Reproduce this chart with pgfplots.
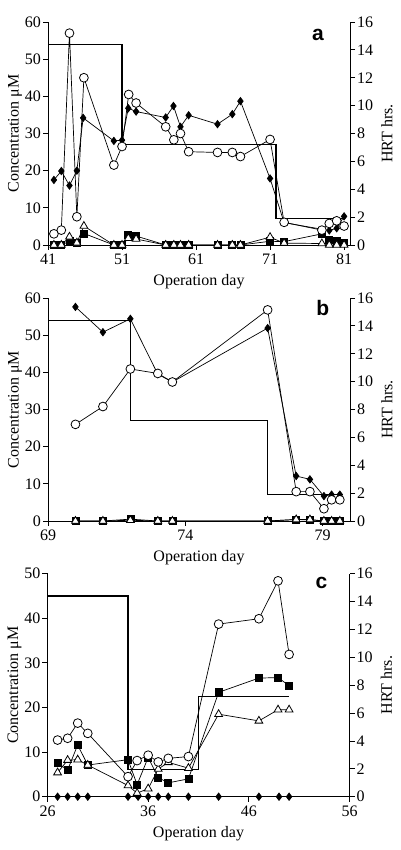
\documentclass[border=0pt]{standalone}
\usepackage{fontspec}
\setmainfont{Liberation Serif}
\newfontfamily\arialfont{Liberation Sans}
\usepackage{pgfplots}
\pgfplotsset{compat=1.18}

\tikzset{plab/.style={font=\arialfont\bfseries\fontsize{21}{24}\selectfont, anchor=center}}
\pgfplotsset{
  base/.style={scale only axis, width=302pt, height=223pt, anchor=south west,
    /pgf/number format/assume math mode=true,
    tick label style={font=\fontsize{16}{18}\selectfont},
    label style={font=\fontsize{16}{18}\selectfont},
    xticklabel style={inner sep=2pt, yshift=-2pt},
    yticklabel style={inner sep=2pt},
    axis line style={-, line width=0.9pt},
    tick style={line width=0.8pt, black},
    major tick length=5pt, tick align=outside, clip=false},
  leftax/.style={base, axis x line*=bottom, axis y line*=left,
    ylabel={Concentration μM}, xlabel={Operation day},
    every axis y label/.style={at={(rel axis cs:0,0.5)}, xshift=-33pt, rotate=90, anchor=center, font=\fontsize{16}{18}\selectfont},
    every axis x label/.style={at={(rel axis cs:0.5,0)}, yshift=-37pt, anchor=center, font=\fontsize{16}{18}\selectfont}},
  rightax/.style={base, axis y line*=right, axis x line=none, ymin=0, ymax=16, ytick={0,2,...,16},
    ylabel={HRT hrs.},
    every axis y label/.style={at={(rel axis cs:1,0.5)}, xshift=37pt, rotate=90, anchor=center, font=\fontsize{16}{18}\selectfont}},
  hrt/.style={const plot, line width=1.1pt, black, no marks},
  circ/.style={black, line width=0.7pt, mark=*, mark size=4.4pt, mark options={fill=white, draw=black, line width=0.8pt}},
  diam/.style={black, line width=0.7pt, mark=diamond*, mark size=3.7pt, mark options={fill=black, draw=black}},
  sqr/.style={black, line width=0.7pt, mark=square*, mark size=3.5pt, mark options={fill=black, draw=black}},
  tri/.style={black, line width=0.7pt, mark=triangle*, mark size=4.5pt, mark options={fill=white, draw=black, line width=0.8pt}}
}

\begin{document}
\begin{tikzpicture}
\path[use as bounding box] (0pt,0pt) rectangle (400pt,850pt);

% ---------------- Panel a ----------------
\begin{axis}[rightax, at={(48pt,605pt)}, xmin=41, xmax=81.8]
\addplot[hrt] coordinates {(41,14.4) (51,7.2) (71.8,1.9) (81,1.9)};
\end{axis}
\begin{axis}[leftax, at={(48pt,605pt)}, xmin=41, xmax=81.8, ymin=0, ymax=60,
  xtick={41,51,61,71,81}, ytick={0,10,...,60}]
\addplot[diam] coordinates {(41.8,17.5) (42.8,19.9) (43.9,16.0) (44.9,20.0) (45.75,34.2) (49.9,28.0) (51.0,28.2) (51.85,36.8) (52.9,35.9) (56.9,34.3) (57.95,37.4) (58.9,31.8) (60.0,34.9) (63.9,32.5) (65.9,35.2) (67.0,38.7) (71.0,17.9) (72.9,6.0) (79.0,3.9) (80.0,4.5) (81.0,7.7)};
\addplot[sqr] coordinates {(41.8,0) (42.8,0) (43.9,1.0) (44.9,0.5) (45.85,3.1) (49.9,0) (51.0,0) (51.85,2.7) (52.9,2.4) (56.9,0) (58.0,0) (58.9,0) (60.0,0) (63.9,0) (65.9,0) (67.0,0) (71.0,1.0) (72.9,0.9) (78.0,3.0) (79.0,1.3) (80.0,1.2) (81.0,0.7)};
\addplot[tri] coordinates {(41.8,0) (42.8,0) (43.9,2.2) (44.9,0.6) (45.85,5.1) (49.9,0) (51.0,0) (51.85,1.8) (52.9,1.6) (56.9,0) (58.0,0) (58.9,0) (60.0,0) (63.9,0) (65.9,0) (67.0,0) (71.0,2.1) (72.9,0.5) (78.0,0.4) (79.0,0) (80.0,0) (81.0,0)};
\addplot[circ] coordinates {(41.8,3.0) (42.8,4.0) (43.9,57.0) (44.9,7.6) (45.85,45.0) (49.9,21.5) (51.0,26.5) (51.9,40.5) (52.9,38.2) (56.9,31.8) (58.0,28.3) (58.9,30.0) (60.0,25.1) (63.9,24.9) (65.9,24.9) (67.0,23.8) (71.0,28.4) (72.9,6.1) (78.0,4.0) (79.0,5.8) (80.0,6.5) (81.0,5.1)};
\node[plab] at (rel axis cs:0.894,0.942) {a};
\end{axis}

% ---------------- Panel b ----------------
\begin{axis}[rightax, at={(48pt,329pt)}, xmin=69, xmax=80]
\addplot[hrt] coordinates {(69,14.4) (72,7.2) (77,1.9) (79.6,1.9)};
\end{axis}
\begin{axis}[leftax, at={(48pt,329pt)}, xmin=69, xmax=80, ymin=0, ymax=60,
  xtick={69,74,79}, ytick={0,10,...,60}]
\addplot[diam] coordinates {(70.0,57.6) (71.0,50.8) (72.0,54.4) (73.0,39.5) (73.53,37.4) (77.0,51.9) (78.04,12.1) (78.54,11.2) (79.05,6.7) (79.33,7.1) (79.63,7.1)};
\addplot[sqr] coordinates {(70.0,0) (71.0,0) (72.0,0.5) (73.0,0) (73.53,0) (77.0,0) (78.04,0.4) (78.54,0.3) (79.05,0) (79.33,0) (79.63,0)};
\addplot[tri] coordinates {(70.0,0) (71.0,0) (72.0,0.2) (73.0,0) (73.53,0) (77.0,0) (78.04,0.4) (78.54,0.4) (79.05,0) (79.33,0) (79.63,0)};
\addplot[circ] coordinates {(70.0,26.0) (71.0,30.8) (72.0,40.9) (73.0,39.7) (73.53,37.4) (77.0,56.8) (78.04,7.9) (78.54,7.9) (79.05,3.3) (79.33,5.7) (79.63,5.7)};
\node[plab] at (rel axis cs:0.91,0.955) {b};
\end{axis}

% ---------------- Panel c ----------------
\begin{axis}[rightax, at={(47.5pt,53.3pt)}, xmin=26, xmax=56]
\addplot[hrt] coordinates {(26,14.4) (34,1.93) (41,7.2) (50,7.2)};
\end{axis}
\begin{axis}[leftax, at={(47.5pt,53.3pt)}, xmin=26, xmax=56, ymin=0, ymax=50,
  xtick={26,36,46,56}, ytick={0,10,...,50}]
\addplot[diam] coordinates {(27,0) (28,0) (29,0) (30,0) (34,0) (35,0) (36,0) (37,0) (38,0) (40,0) (43,0) (47,0) (49,0) (50,0)};
\addplot[sqr] coordinates {(27.0,7.5) (28.0,6.0) (29.0,11.6) (30.0,7.1) (34.0,8.3) (34.9,2.7) (36.0,8.8) (37.0,4.3) (38.0,3.1) (40.0,4.0) (43.0,23.4) (47.0,26.6) (48.9,26.7) (50.0,24.9)};
\addplot[tri] coordinates {(27.0,5.4) (28.0,8.2) (29.0,8.3) (30.0,7.1) (34.0,2.5) (34.9,0.8) (36.0,1.8) (37.0,6.2) (38.0,7.7) (40.0,6.4) (43.0,18.5) (47.0,17.0) (48.9,19.5) (50.0,19.5)};
\addplot[circ] coordinates {(27.0,12.7) (28.0,13.1) (29.0,16.5) (30.0,14.2) (34.0,4.5) (34.9,8.1) (36.0,9.3) (37.0,7.8) (38.0,8.6) (40.0,9.0) (43.0,38.7) (47.0,39.9) (48.9,48.4) (50.0,31.9)};
\node[plab] at (rel axis cs:0.907,0.957) {c};
\end{axis}
\end{tikzpicture}
\end{document}
